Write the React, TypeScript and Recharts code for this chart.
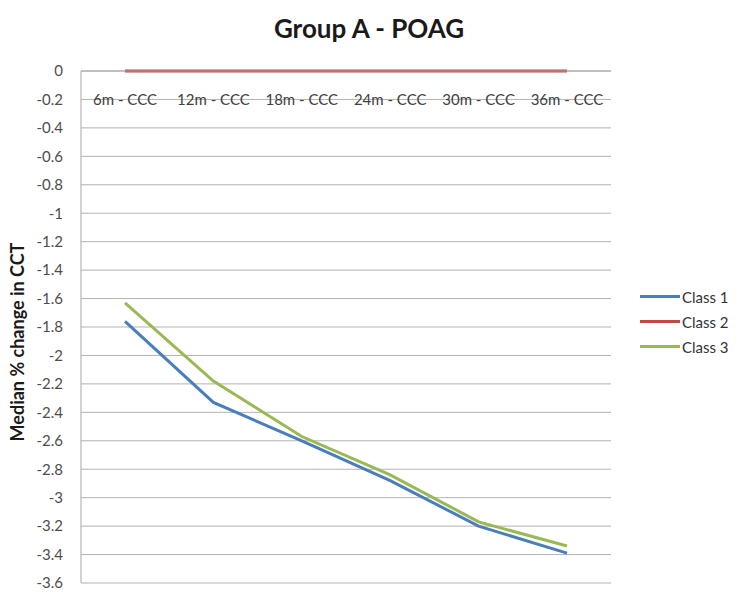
import { LineChart, Line, XAxis, YAxis, CartesianGrid } from "recharts";

const categories = [
  "6m - CCC",
  "12m - CCC",
  "18m - CCC",
  "24m - CCC",
  "30m - CCC",
  "36m - CCC",
];
const class1 = [-1.76, -2.33, -2.6, -2.88, -3.2, -3.39];
const class2 = [0, 0, 0, 0, 0, 0];
const class3 = [-1.63, -2.18, -2.57, -2.84, -3.17, -3.34];
const yTicks = [
  0, -0.2, -0.4, -0.6, -0.8, -1, -1.2, -1.4, -1.6, -1.8, -2, -2.2, -2.4, -2.6,
  -2.8, -3, -3.2, -3.4, -3.6,
];

const series = [
  { key: "class1", name: "Class 1", color: "#4a7ebb" },
  { key: "class2", name: "Class 2", color: "#be4b48" },
  { key: "class3", name: "Class 3", color: "#98b954" },
];

const data = categories.map((name, i) => ({
  name,
  class1: class1[i],
  class2: class2[i],
  class3: class3[i],
}));

const FONT = "Lato, 'Open Sans', sans-serif";

function TopTick(props: any) {
  const { x, payload } = props;
  return (
    <text
      x={x}
      y={105}
      textAnchor="middle"
      fill="#404040"
      fontSize={15}
      fontFamily={FONT}
    >
      {payload.value}
    </text>
  );
}

export default function App() {
  return (
    <div
      style={{
        position: "absolute",
        left: 0,
        top: 0,
        width: 738,
        height: 592,
        background: "#fff",
        fontFamily: FONT,
      }}
    >
      <div
        style={{
          position: "absolute",
          left: 0,
          top: 10,
          width: 738,
          textAlign: "center",
          fontSize: 26,
          fontWeight: 700,
          color: "#1a1a1a",
          lineHeight: "36px",
        }}
      >
        Group A - POAG
      </div>
      <div
        style={{
          position: "absolute",
          left: 17,
          top: 342,
          transform: "translate(-50%, -50%) rotate(-90deg)",
          whiteSpace: "nowrap",
          fontSize: 18,
          fontWeight: 700,
          color: "#1a1a1a",
        }}
      >
        Median % change in CCT
      </div>
      <LineChart
        width={738}
        height={592}
        data={data}
        margin={{ top: 41, right: 127, bottom: 9, left: 0 }}
      >
        <CartesianGrid vertical={false} stroke="#b3b3b3" />
        <XAxis
          dataKey="name"
          orientation="top"
          height={30}
          padding={{ left: 44, right: 44 }}
          axisLine={{ stroke: "#a6a6a6" }}
          tickLine={false}
          tick={<TopTick />}
          interval={0}
        />
        <YAxis
          width={81}
          domain={[-3.6, 0]}
          ticks={yTicks}
          interval={0}
          tickLine={false}
          tickMargin={12}
          axisLine={{ stroke: "#a6a6a6" }}
          tick={{ fill: "#4d4d4d", fontSize: 15, fontFamily: FONT }}
        />
        {series.map((s) => (
          <Line
            key={s.key}
            type="linear"
            dataKey={s.key}
            name={s.name}
            stroke={s.color}
            strokeWidth={3}
            dot={false}
            isAnimationActive={false}
          />
        ))}
      </LineChart>
      <div style={{ position: "absolute", left: 640, top: 284 }}>
        {series.map((s) => (
          <div
            key={s.key}
            style={{
              display: "flex",
              alignItems: "center",
              height: 25,
              fontSize: 15,
              color: "#333",
            }}
          >
            <span
              style={{
                display: "inline-block",
                width: 40,
                height: 3,
                background: s.color,
                marginRight: 2,
              }}
            />
            {s.name}
          </div>
        ))}
      </div>
    </div>
  );
}
